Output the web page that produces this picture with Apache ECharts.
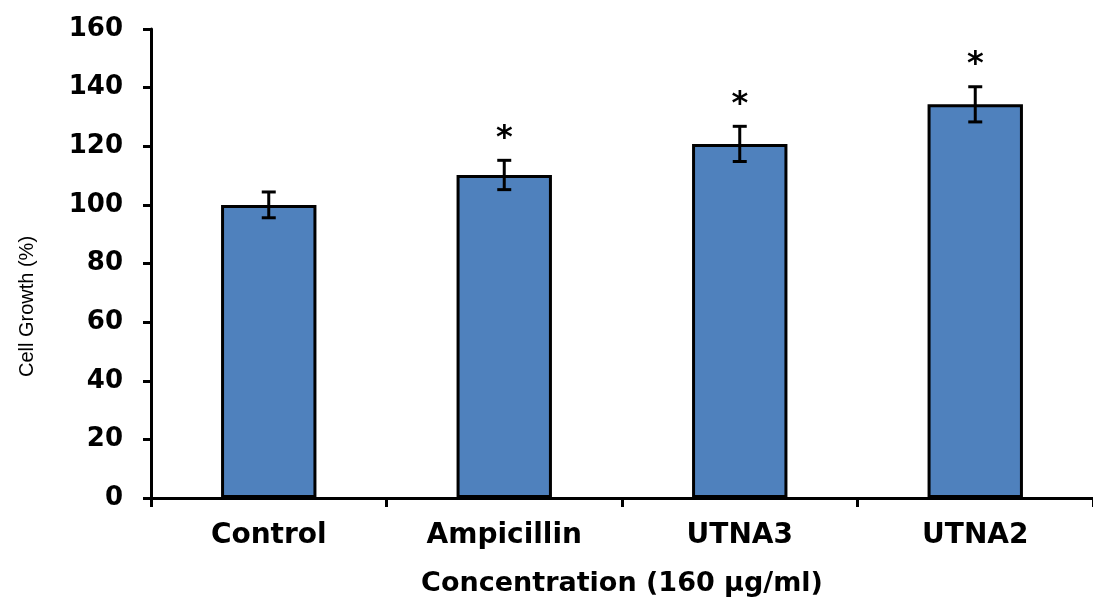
<!DOCTYPE html>
<html>
<head>
<meta charset="utf-8">
<script src="https://cdn.jsdelivr.net/npm/echarts@6/dist/echarts.min.js"></script>
<style>
  html, body { margin: 0; padding: 0; background: #fff; }
  #chart { width: 1093px; height: 602px; }
</style>
</head>
<body>
<div id="chart"></div>
<script>
const categories = ["Control", "Ampicillin", "UTNA3", "UTNA2"];
const growth = [100, 110.2, 120.8, 134.3];
const errors = [4.4, 5.0, 6.0, 6.0];
const marks = ["", "*", "*", "*"];
const yTicks = [0, 20, 40, 60, 80, 100, 120, 140, 160];

const chart = echarts.init(document.getElementById("chart"), null, { renderer: "canvas" });

const boldFont = "'DejaVu Sans', sans-serif";

chart.setOption({
  animation: false,
  backgroundColor: "#fff",
  // the x axis runs past the right edge of the picture
  grid: { left: 151, width: 948, top: 29, bottom: 99, containLabel: false },
  xAxis: {
    type: "category",
    data: categories,
    name: "Concentration (160 μg/ml)",
    nameLocation: "middle",
    nameGap: 72,
    nameTextStyle: { fontFamily: boldFont, fontWeight: "bold", fontSize: 27, color: "#000" },
    axisLine: { lineStyle: { color: "#000", width: 3 } },
    axisTick: { show: true, length: 9, lineStyle: { color: "#000", width: 3 } },
    axisLabel: { margin: 24, fontFamily: boldFont, fontWeight: "bold", fontSize: 28, color: "#000" }
  },
  yAxis: {
    type: "value",
    min: yTicks[0],
    max: yTicks[yTicks.length - 1],
    interval: 20,
    name: "Cell Growth (%)",
    nameLocation: "middle",
    nameGap: 114,
    nameTextStyle: {
      fontFamily: "'Liberation Sans Narrow', 'Liberation Sans', Arial, sans-serif",
      fontSize: 20,
      color: "#000",
      padding: [0, 86, 0, 0]
    },
    splitLine: { show: false },
    axisLine: { show: true, lineStyle: { color: "#000", width: 3 } },
    axisTick: { show: true, length: 8, lineStyle: { color: "#000", width: 3 } },
    axisLabel: { margin: 28, fontFamily: boldFont, fontWeight: "bold", fontSize: 26, color: "#000" }
  },
  series: [
    {
      type: "bar",
      data: growth,
      barWidth: "40.5%",
      itemStyle: { color: "#4F81BD", borderColor: "#000", borderWidth: 3 }
    },
    {
      type: "custom",
      data: growth.map((v, i) => [i, v, errors[i], marks[i]]),
      z: 10,
      renderItem: function (params, api) {
        const i = api.value(0);
        const mean = api.value(1);
        const err = api.value(2);
        const hi = api.coord([i, mean + err]);
        const lo = api.coord([i, mean - err]);
        const cap = 7;
        const style = { stroke: "#000", lineWidth: 3 };
        const children = [
          { type: "line", shape: { x1: hi[0], y1: hi[1], x2: lo[0], y2: lo[1] }, style: style },
          { type: "line", shape: { x1: hi[0] - cap, y1: hi[1], x2: hi[0] + cap, y2: hi[1] }, style: style },
          { type: "line", shape: { x1: lo[0] - cap, y1: lo[1], x2: lo[0] + cap, y2: lo[1] }, style: style }
        ];
        const mark = marks[params.dataIndex];
        if (mark) {
          children.push({
            type: "text",
            x: hi[0],
            y: hi[1] - 22,
            style: {
              text: mark,
              fill: "#000",
              font: "bold 32px 'DejaVu Sans', sans-serif",
              align: "center",
              verticalAlign: "middle"
            }
          });
        }
        return { type: "group", children: children };
      }
    }
  ]
});
</script>
</body>
</html>
